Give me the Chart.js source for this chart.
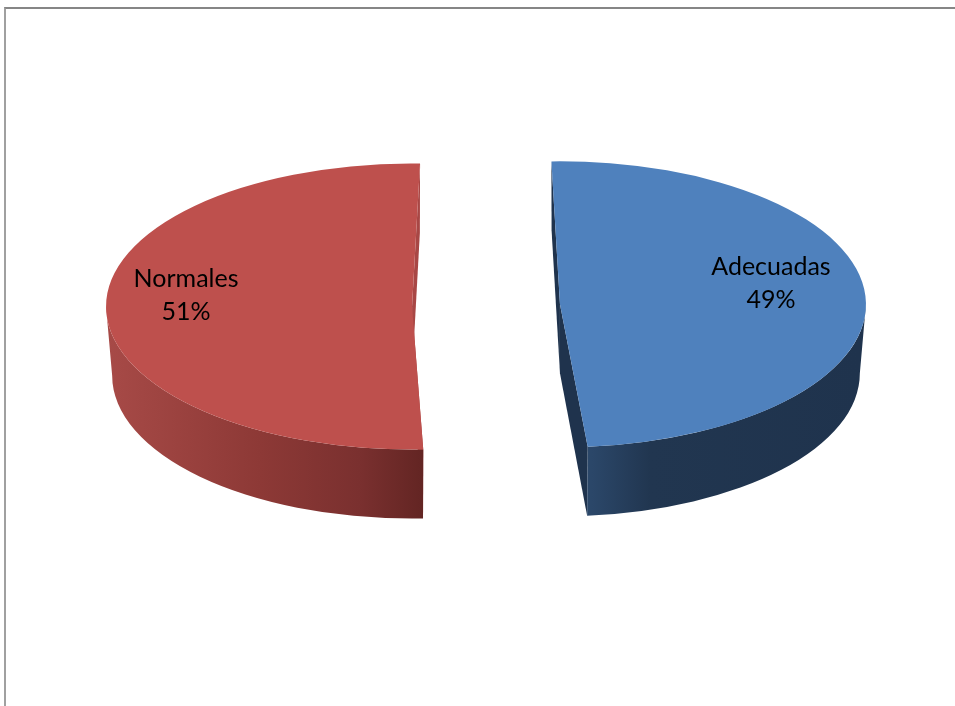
<!DOCTYPE html>
<html lang="es">
<head>
<meta charset="utf-8">
<title>Normales y Adecuadas</title>
<script src="https://cdn.jsdelivr.net/npm/chart.js@4"></script>
<style>
    html, body { margin: 0; padding: 0; background: #fff; overflow: hidden; }
    #marco {
        position: absolute; left: 4px; top: 7px; right: 0; bottom: 0;
        border-top: 2px solid #868686; border-left: 2px solid #a0a0a0;
    }
    #grafico { position: absolute; left: 0; top: 0; }
</style>
</head>
<body>
<div id="marco"></div>
<canvas id="grafico" width="955" height="706"></canvas>
<script>
const categorias = ["Adecuadas", "Normales"];
const valores = [49, 51];
const coresTopo = ["#4f81bd", "#be504d"];
const coresCorte = ["#1f334d", "#a84745"];

// paradas do degradê lateral: [x da tela, cor]
const ladoAzul = [[592, "#2b4769"], [650, "#213650"], [860, "#1f334d"]];
const ladoVermelho = [[107, "#a74a47"], [260, "#8d3936"], [360, "#7a302f"], [423, "#632523"]];
const lados = [ladoAzul, ladoVermelho];

const achatamento = 0.4674; // elipse do topo
const profundidade = 69;
const estreitaBase = 0.98; // a base fica um pouco menor, perspectiva
const explosao = [77, 71]; // px
const giroFatia = [-1.6, 1.5]; // graus, perspectiva de cada fatia
const posRotulo = [[211, -21], [-226, -11]]; // centro do texto em relação ao vértice

function geometria(arc, i) {
    const mid = (arc.startAngle + arc.endAngle) / 2;
    const chart = arc.$context.chart;
    const cy = (chart.chartArea.top + chart.chartArea.bottom) / 2;
    const giro = (giroFatia[i] * Math.PI) / 180;
    const vx = arc.x + Math.cos(mid) * explosao[i];
    const vy = arc.y + Math.sin(mid) * explosao[i];
    return {
        cy, vx, vy, giro,
        sx: vx,
        sy: cy + (vy - cy) * achatamento,
        r: arc.outerRadius,
        a0: arc.startAngle + giro,
        a1: arc.endAngle + giro,
    };
}

function desenhaLateral(ctx, g, i) {
    const rx = g.r;
    const ry = g.r * achatamento;
    const rxBase = rx * estreitaBase;

    // faces do corte
    ctx.fillStyle = coresCorte[i];
    [g.a0, g.a1].forEach((a) => {
        ctx.beginPath();
        ctx.moveTo(g.sx, g.sy);
        ctx.lineTo(g.sx + rx * Math.cos(a), g.sy + ry * Math.sin(a));
        ctx.lineTo(g.sx + rxBase * Math.cos(a), g.sy + ry * Math.sin(a) + profundidade);
        ctx.lineTo(g.sx, g.sy + profundidade);
        ctx.closePath();
        ctx.fill();
    });

    // parte curva visível (metade de baixo da elipse)
    const ini = Math.max(g.a0, 0);
    const fim = Math.min(g.a1, Math.PI);
    const paradas = lados[i];
    const x0 = paradas[0][0];
    const x1 = paradas[paradas.length - 1][0];
    const grad = ctx.createLinearGradient(x0, 0, x1, 0);
    paradas.forEach((p) => grad.addColorStop((p[0] - x0) / (x1 - x0), p[1]));
    ctx.fillStyle = grad;
    ctx.beginPath();
    ctx.ellipse(g.sx, g.sy, rx, ry, 0, ini, fim);
    ctx.ellipse(g.sx, g.sy + profundidade, rxBase, ry, 0, fim, ini, true);
    ctx.closePath();
    ctx.fill();
}

const pizza3d = {
    id: "pizza3d",
    beforeDatasetDraw(chart) {
        const ctx = chart.ctx;
        const arcos = chart.getDatasetMeta(0).data;
        const geos = arcos.map((arc, i) => geometria(arc, i));

        arcos.forEach((arc, i) => desenhaLateral(ctx, geos[i], i));

        arcos.forEach((arc, i) => {
            const g = geos[i];
            ctx.save();
            ctx.translate(0, g.cy);
            ctx.scale(1, achatamento);
            ctx.translate(0, -g.cy);
            ctx.translate(g.vx, g.vy);
            ctx.rotate(g.giro);
            ctx.translate(-arc.x, -arc.y);
            arc.draw(ctx);
            ctx.restore();
        });

        // rótulos
        ctx.save();
        ctx.fillStyle = "#000";
        ctx.font = '25px Lato, "Open Sans", sans-serif';
        ctx.textAlign = "center";
        ctx.textBaseline = "middle";
        arcos.forEach((arc, i) => {
            const g = geos[i];
            const x = g.sx + posRotulo[i][0];
            const y = g.sy + posRotulo[i][1];
            ctx.fillText(categorias[i], x, y - 16.5);
            ctx.fillText(valores[i] + "%", x, y + 16.5);
        });
        ctx.restore();
        return false;
    },
};

new Chart(document.getElementById("grafico"), {
    type: "pie",
    data: {
        labels: categorias,
        datasets: [
            {
                data: valores,
                backgroundColor: coresTopo,
                borderWidth: 0,
                clip: false,
            },
        ],
    },
    options: {
        responsive: false,
        animation: false,
        radius: 306,
        rotation: 0,
        layout: { padding: { left: 11, bottom: 95 } },
        plugins: {
            legend: { display: false },
            tooltip: { enabled: false },
            title: { display: false },
        },
    },
    plugins: [pizza3d],
});
</script>
</body>
</html>
